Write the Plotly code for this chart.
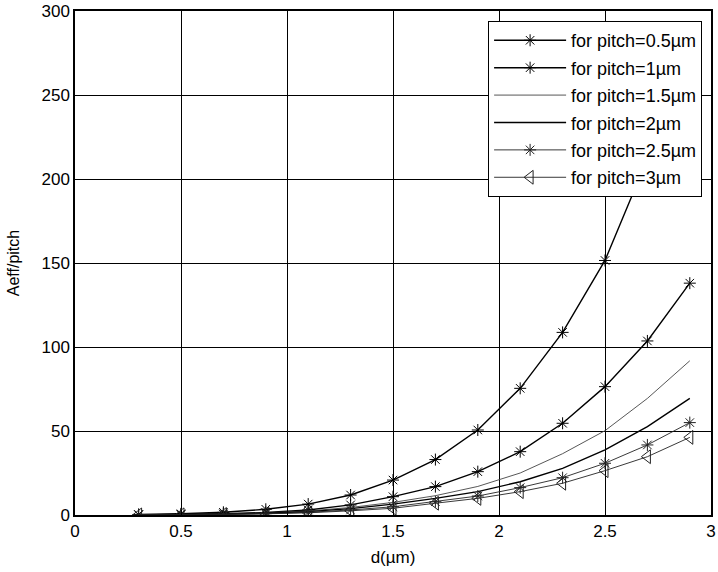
import plotly.graph_objects as go

d_um = [0.3, 0.5, 0.7, 0.9, 1.1, 1.3, 1.5, 1.7, 1.9, 2.1, 2.3, 2.5, 2.7, 2.9]

pitch_05 = [0.3, 0.7, 1.6, 3.4, 6.5, 11.9, 20.8, 33.0, 50.6, 75.4, 108.7, 151.5, 212.0, 290.0]
pitch_10 = [0.1, 0.3, 0.7, 1.5, 3.0, 6.0, 10.9, 16.9, 25.8, 37.7, 54.6, 76.4, 103.6, 138.0]
pitch_15 = [0.1, 0.2, 0.5, 1.2, 2.4, 4.5, 7.5, 11.5, 17.0, 25.0, 36.5, 50.2, 69.4, 91.8]
pitch_20 = [0.1, 0.2, 0.5, 1.0, 2.0, 3.8, 6.5, 9.9, 13.9, 19.8, 27.8, 38.7, 52.6, 69.4]
pitch_25 = [0.1, 0.2, 0.4, 0.8, 1.6, 3.0, 4.9, 7.9, 11.3, 16.3, 22.2, 30.8, 41.7, 55.0]
pitch_30 = [0.05, 0.1, 0.3, 0.7, 1.3, 2.5, 4.0, 7.0, 9.9, 13.9, 18.9, 26.4, 34.7, 46.2]

labels = ["for pitch=0.5µm", "for pitch=1µm", "for pitch=1.5µm",
          "for pitch=2µm", "for pitch=2.5µm", "for pitch=3µm"]

x_ticks = [0, 0.5, 1, 1.5, 2, 2.5, 3]
x_ticklabels = ["0", "0.5", "1", "1.5", "2", "2.5", "3"]
y_ticks = [0, 50, 100, 150, 200, 250, 300]

series = [pitch_05, pitch_10, pitch_15, pitch_20, pitch_25, pitch_30]
styles = [
    dict(mode="lines+markers", color="#000000", width=1.4, symbol="asterisk-open", msize=10),
    dict(mode="lines+markers", color="#000000", width=1.4, symbol="asterisk-open", msize=10),
    dict(mode="lines", color="#444444", width=0.9, symbol=None, msize=0),
    dict(mode="lines", color="#000000", width=1.4, symbol=None, msize=0),
    dict(mode="lines+markers", color="#222222", width=0.9, symbol="asterisk-open", msize=10),
    dict(mode="lines+markers", color="#222222", width=0.9, symbol="triangle-left-open", msize=12),
]

fig = go.Figure()
for i, (ys, lab, st) in enumerate(zip(series, labels, styles)):
    kw = dict(x=d_um, y=ys, name=lab, mode=st["mode"], legendgroup=f"g{i}",
              line=dict(color=st["color"], width=st["width"]))
    if st["symbol"]:
        kw["marker"] = dict(symbol=st["symbol"], size=st["msize"],
                            color=st["color"], line=dict(color=st["color"], width=1))
    fig.add_trace(go.Scatter(**kw))

font_fam = "Liberation Sans, Arial, sans-serif"
axis_common = dict(showgrid=True, gridcolor="#000000", gridwidth=1,
                   showline=True, linecolor="#000000", linewidth=1.5, mirror=True,
                   ticks="inside", ticklen=5, tickcolor="#000000", zeroline=False,
                   tickfont=dict(family=font_fam, size=17, color="#000000"))

fig.update_layout(
    width=718, height=572,
    margin=dict(l=75, r=7, t=11, b=57),
    paper_bgcolor="white", plot_bgcolor="white",
    font=dict(family=font_fam, size=17, color="#000000"),
    xaxis=dict(range=[0, 3], tickvals=x_ticks, ticktext=x_ticklabels, automargin=False,
               title=dict(text="d(µm)", font=dict(size=17), standoff=11), **axis_common),
    yaxis=dict(range=[0, 300], tickvals=y_ticks, automargin=False,
               title=dict(text="Aeff/pitch", font=dict(size=16), standoff=18), **axis_common),
    legend=dict(x=0.986, y=0.98, xanchor="right", yanchor="top",
                bgcolor="white", bordercolor="#000000", borderwidth=1,
                font=dict(family=font_fam, size=18, color="#000000"),
                tracegroupgap=1, itemwidth=72),
    showlegend=True,
)

fig.write_html("out.html")
